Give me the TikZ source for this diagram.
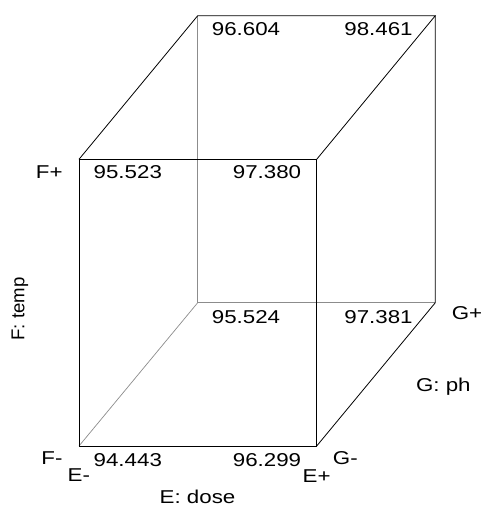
\documentclass[tikz,border=0pt]{standalone}
\usepackage{fontspec}
\setmainfont{Liberation Sans}
\tikzset{
  lbl/.style={inner sep=0pt, anchor=center, font=\fontsize{18.6}{20}\selectfont},
  edge/.style={draw=black, line width=0.8pt},
  hidden/.style={draw=black!45, line width=0.7pt}
}
\newcommand{\wide}[1]{\scalebox{1.2}[1]{#1}}
\begin{document}
\begin{tikzpicture}[x=1pt,y=-1pt]
\useasboundingbox (0,0) rectangle (482,506);
% front face corners
\coordinate (flb) at (79,446);
\coordinate (frb) at (316.7,446);
\coordinate (flt) at (79,159.3);
\coordinate (frt) at (316.7,159.3);
% back face corners
\coordinate (blb) at (197.7,302.7);
\coordinate (brb) at (435.3,302.7);
\coordinate (blt) at (197.7,15.7);
\coordinate (brt) at (435.3,15.7);
% hidden edges
\draw[hidden] (blt) -- (blb);
\draw[hidden] (blb) -- (brb);
\draw[hidden] (flb) -- (blb);
% visible edges
\draw[edge] (flb) -- (frb) -- (frt) -- (flt) -- cycle;
\draw[edge] (flt) -- (blt) -- (brt) -- (frt);
\draw[edge] (brt) -- (brb) -- (frb);
% values
\node[lbl] (v1) at (246,29) {\wide{96.604}};
\node[lbl] (v2) at (378.5,29) {\wide{98.461}};
\node[lbl] (v3) at (127.8,172.5) {\wide{95.523}};
\node[lbl] (v4) at (267,172.5) {\wide{97.380}};
\node[lbl] (v5) at (246,316.7) {\wide{95.524}};
\node[lbl] (v6) at (378.5,316.7) {\wide{97.381}};
\node[lbl] (v7) at (127.8,460) {\wide{94.443}};
\node[lbl] (v8) at (267,460) {\wide{96.299}};
% factor labels
\node[lbl] (fp) at (49.2,172.3) {\wide{F+}};
\node[lbl] (fm) at (52,458.5) {\wide{F-}};
\node[lbl] (gp) at (467,313.3) {\wide{G+}};
\node[lbl] (gm) at (345.3,458.5) {\wide{G-}};
\node[lbl] (gph) at (443.3,386.7) {\wide{G: ph}};
\node[lbl] (em) at (78.8,475) {\wide{E-}};
\node[lbl] (ep) at (316.7,476) {\wide{E+}};
\node[lbl] (edose) at (197.5,496.5) {\wide{E: dose}};
\node[lbl, rotate=90] (ftemp) at (20,309) {F: temp};
\end{tikzpicture}
\end{document}
